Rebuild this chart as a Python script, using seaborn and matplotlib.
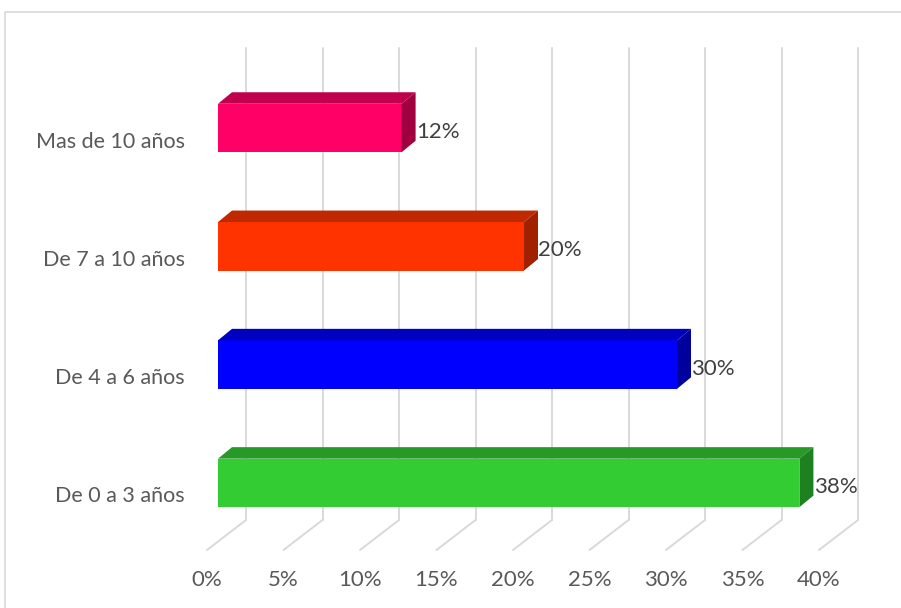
import pandas as pd
import matplotlib.pyplot as plt
import seaborn as sns
from matplotlib.patches import Polygon, Rectangle
from matplotlib.transforms import ScaledTranslation

# Datos del gráfico
categorias = ["Mas de 10 años", "De 7 a 10 años", "De 4 a 6 años", "De 0 a 3 años"]
porcentajes = [12, 20, 30, 38]
etiquetas = ["12%", "20%", "30%", "38%"]
ticks = [0, 5, 10, 15, 20, 25, 30, 35, 40]
tick_labels = ["0%", "5%", "10%", "15%", "20%", "25%", "30%", "35%", "40%"]

# Colores de las caras (frente, arriba, lado)
colores_frente = ["#FF0066", "#FF3300", "#0000FF", "#33CC33"]
colores_arriba = ["#C0004D", "#C02800", "#0000C0", "#269926"]
colores_lado = ["#A00040", "#A02000", "#00009C", "#1F801F"]
GRID = "#D9D9D9"
TEXTO = "#595959"

sns.set_style("white")
plt.rcParams["font.family"] = ["Lato", "DejaVu Sans"]

W, H = 901, 608
fig = plt.figure(figsize=(W / 100, H / 100), dpi=100)

# plano frontal de las barras (px)
x0p, x1p = 218, 830
y0p, y1p = 69.5, 541.5
ax = fig.add_axes([x0p / W, 1 - y1p / H, (x1p - x0p) / W, (y1p - y0p) / H])

df = pd.DataFrame({"cat": categorias, "pct": porcentajes})
sns.barplot(data=df, x="pct", y="cat", hue="cat", palette=colores_frente,
            width=0.41, orient="h", saturation=1, legend=False, ax=ax,
            linewidth=0, zorder=3)

y_top = (y0p - 128) / 118.3
y_bot = (y1p - 128) / 118.3
ax.set_xlim(0, 40)
ax.set_ylim(y_bot, y_top)

# profundidad en unidades de datos
px_x = (x1p - x0p) / 40
px_y = 118.3
DX, DY = 14 / px_x, 11.5 / px_y      # grosor de la barra
WX, WY = 28 / px_x, 21.5 / px_y      # pared del fondo
FX, FY = 11 / px_x, 8.5 / px_y       # borde frontal del piso

# cuadrícula 3D (pared + piso)
for v in ticks:
    ax.plot([v + WX, v + WX], [y_top - WY, y_bot - WY], color=GRID, lw=1.4,
            clip_on=False, zorder=1)
    ax.plot([v + WX, v - FX], [y_bot - WY, y_bot + FY], color=GRID, lw=1.4,
            clip_on=False, zorder=1)

# caras superior y lateral
for p, ca, cl in zip(ax.patches, colores_arriba, colores_lado):
    x, w, y, h = p.get_x(), p.get_width(), p.get_y(), p.get_height()
    top = [(x, y), (x + w, y), (x + w + DX, y - DY), (x + DX, y - DY)]
    side = [(x + w, y), (x + w, y + h), (x + w + DX, y + h - DY), (x + w + DX, y - DY)]
    ax.add_patch(Polygon(top, closed=True, facecolor=ca, edgecolor="none",
                         clip_on=False, zorder=3))
    ax.add_patch(Polygon(side, closed=True, facecolor=cl, edgecolor="none",
                         clip_on=False, zorder=3))
    p.set_clip_on(False)

# etiquetas de datos
for i, (v, t) in enumerate(zip(porcentajes, etiquetas)):
    ax.text(v + DX + 0.02, i + 0.035, t, va="center", ha="left",
            fontsize=16, color="#404040", zorder=4)

# etiquetas del eje x en el borde frontal del piso
for v, t in zip(ticks, tick_labels):
    ax.text(v - FX, (580 - 128) / 118.3, t, va="center", ha="center",
            fontsize=16, color=TEXTO)

ax.set_xticks([])
ax.set_xlabel("")
ax.set_ylabel("")
ax.tick_params(axis="y", length=0, pad=24, labelsize=15.5, labelcolor=TEXTO)
shift = ScaledTranslation(0, -11.5 / 100, fig.dpi_scale_trans)
for lab in ax.get_yticklabels():
    lab.set_transform(lab.get_transform() + shift)
sns.despine(ax=ax, left=True, bottom=True)
ax.patch.set_alpha(0)

# marco del gráfico
fig.add_artist(Rectangle((5 / W, -0.1), 1.2, 1.1 - 12 / H, transform=fig.transFigure,
                         fill=False, edgecolor=GRID, lw=1.2))

fig.savefig("out.png", dpi=100)
